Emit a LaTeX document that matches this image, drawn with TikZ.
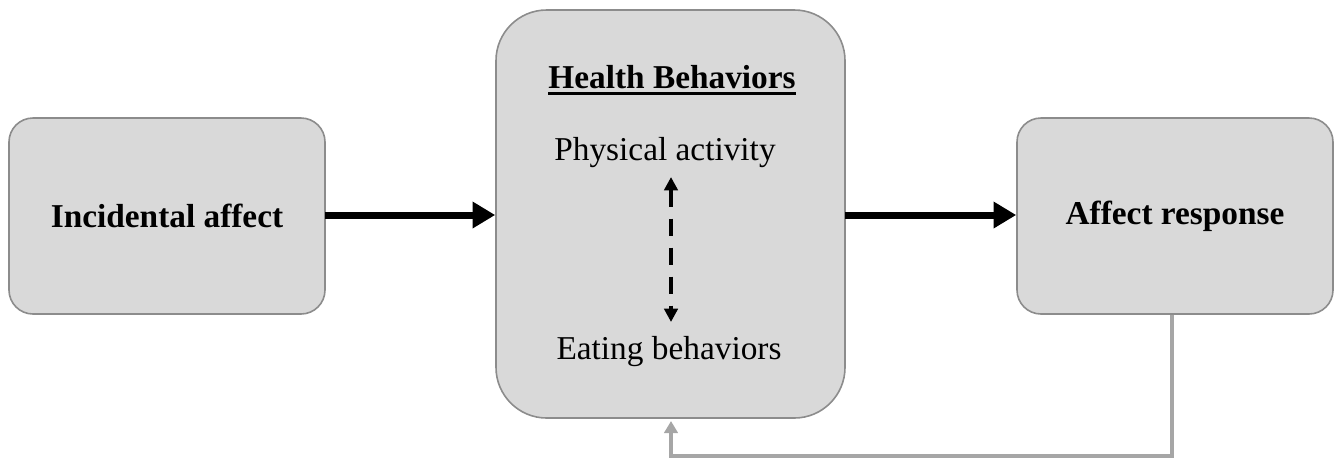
\documentclass[tikz,border=0pt]{standalone}
\usepackage{fontspec}
\setmainfont{Liberation Serif}
\usetikzlibrary{arrows.meta}
\definecolor{boxfill}{HTML}{D9D9D9}
\definecolor{boxline}{HTML}{8C8C8C}
\definecolor{fbline}{HTML}{A6A6A6}
\tikzset{
  sidebox/.style={draw=boxline, fill=boxfill, line width=1.2pt, rounded corners=18pt,
    minimum width=237pt, minimum height=147pt, inner sep=0pt,
    font=\fontsize{25}{30}\selectfont\bfseries},
  midbox/.style={draw=boxline, fill=boxfill, line width=1.2pt, rounded corners=38pt,
    minimum width=261.75pt, minimum height=306pt, inner sep=0pt},
  lbl/.style={inner sep=0pt, font=\fontsize{25}{30}\selectfont},
  mainarrow/.style={line width=5.25pt, -{Triangle[length=17pt,width=19pt]}},
  dasharrow/.style={line width=3pt, dash pattern=on 12.75pt off 9pt, {Triangle[length=10pt,width=10pt]}-{Triangle[length=10pt,width=10pt]}},
  fbarrow/.style={draw=fbline, line width=3pt, -{Triangle[length=9pt,width=10pt]}},
  uline/.style={line width=2.2pt}
}
\begin{document}
\begin{tikzpicture}[x=0.75pt,y=-0.75pt]
\useasboundingbox (0,0) rectangle (1341,462);
\node[sidebox] (inc) at (167,216) {Incidental affect};
\node[midbox] (hb) at (670.5,214) {};
\node[sidebox] (resp) at (1175,216) {Affect response};
\node[lbl, font=\fontsize{25}{30}\selectfont\bfseries, anchor=base] (title) at (672,88) {Health Behaviors};
\draw[uline] ([yshift=-4pt]title.base west) -- ([yshift=-4pt]title.base east);
\node[lbl] (pa) at (665,153) {Physical activity};
\node[lbl] (eb) at (669,352) {Eating behaviors};
\coordinate (pat) at (671,177);
\coordinate (ebt) at (671,322);
\draw[dasharrow] (pat) -- (ebt);
\coordinate (a1) at (325,215);
\coordinate (a2) at (845,215);
\draw[mainarrow] (a1) -- (hb.west |- a1);
\draw[mainarrow] (a2) -- (resp.west |- a2);
\coordinate (fb1) at (1172,456);
\coordinate (fb2) at (671,456);
\coordinate (fbtip) at (671,421);
\draw[fbarrow] (resp.south -| fb1) -- (fb1) -- (fb2) -- (fbtip);
\end{tikzpicture}
\end{document}
